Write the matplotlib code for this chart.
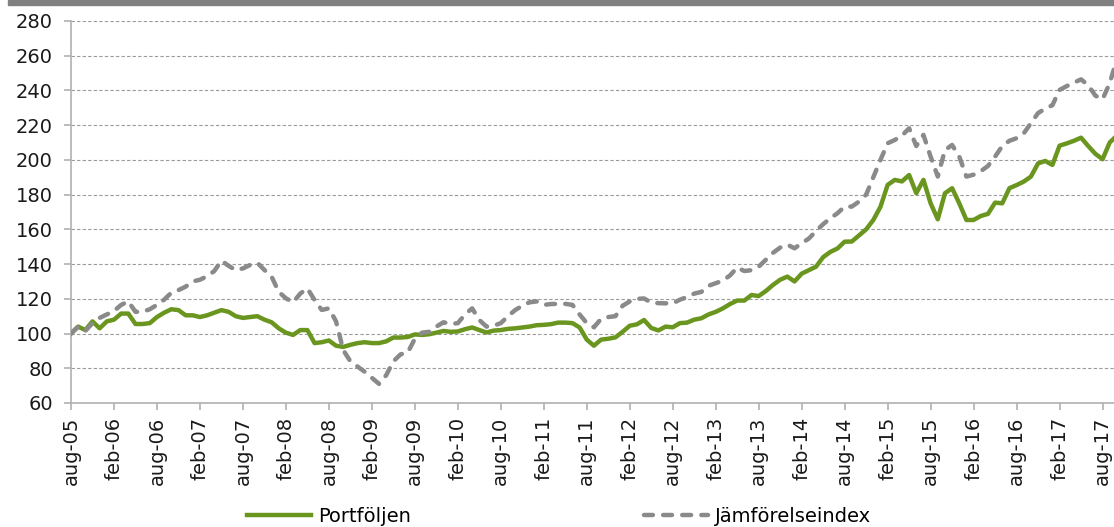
import matplotlib
matplotlib.use("Agg")
import matplotlib.pyplot as plt
from matplotlib.patches import Rectangle


# monthly index values, aug-05 .. oct-17
portfoljen = [
    100, 104, 102, 107, 103, 107, 108, 111.5, 111.5, 105.5,
    105.5, 106, 109.5, 112, 114, 113.5, 110.5, 110.5, 109.5, 110.5,
    112, 113.5, 112.5, 110, 109, 109.5, 110, 108, 106.5, 103,
    100.5, 99.2, 102, 102, 94.5, 95, 96, 93, 92.3, 93.5,
    94.5, 95, 94.5, 94.5, 95.5, 97.7, 97.7, 98, 99.5, 99.2,
    99.6, 100.5, 101.5, 101, 101.2, 102.5, 103.5, 102, 100.6, 101.7,
    102, 102.7, 103, 103.5, 104, 104.8, 105, 105.4, 106.3, 106.3,
    106, 103.5, 96.5, 93, 96.5, 97, 97.8, 101, 104.5, 105.3,
    107.8, 103.2, 101.8, 104, 103.6, 106, 106.3, 108, 108.8, 111,
    112.5, 114.5, 117, 119, 119, 122.2, 121.6, 124.5, 128, 131,
    132.8, 130, 134.5, 136.5, 138.5, 144, 147, 149, 152.9, 153,
    156.5, 160, 165.4, 173, 185.6, 188.5, 187.6, 191.3, 180.8, 188.5,
    175, 165.8, 180.8, 183.7, 175, 165.4, 165.4, 167.7, 168.9, 175.4,
    175, 183.7, 185.5, 187.5, 190.4, 198, 199.4, 197.1, 208.2, 209.5,
    211, 212.8, 208, 203.5, 200.4, 210, 214,
]

jamforelseindex = [
    100, 104, 101.5, 106, 109, 111, 113, 116.5, 118.5, 112.5,
    112.5, 114, 116.5, 119.5, 123.5, 125, 127, 130, 131, 133,
    136, 142, 139, 136.5, 137.5, 139.5, 140.8, 136.6, 132.8, 124,
    120.3, 118, 123, 126, 119.3, 113.6, 114.5, 107, 90.5, 84,
    81, 78, 74.5, 71, 76, 84, 88, 89, 97, 100.5,
    101, 104, 106.5, 105.5, 106, 111, 114.5, 107.8, 104, 104.5,
    106, 110, 113.5, 116, 118, 118.5, 116.5, 117, 117.1, 117.1,
    116.5, 111, 106, 103.6, 108.5, 109.5, 110, 116, 118.5, 120,
    120.2, 117.8, 117.5, 117.4, 117.4, 119.5, 121, 123, 124, 127.5,
    129, 130.5, 133.5, 138, 136, 136.5, 138.5, 142.5, 146.5, 149.5,
    151.2, 149.1, 152, 154.7, 159, 163, 166.4, 169.3, 173.1, 173.1,
    176, 180, 190, 200, 209.6, 211.5, 214, 218.2, 208, 214.4,
    201.9, 190.4, 205.7, 208.6, 201.9, 190.4, 191.5, 193.5, 196.5, 201.9,
    208, 211, 212.5, 215.3, 221.1, 227, 229.5, 231.5, 240.3, 242.5,
    244.5, 246.4, 243, 237, 234.9, 244.2, 258,
]

tick_labels = [
    "aug-05", "feb-06", "aug-06", "feb-07", "aug-07", "feb-08", "aug-08",
    "feb-09", "aug-09", "feb-10", "aug-10", "feb-11", "aug-11", "feb-12",
    "aug-12", "feb-13", "aug-13", "feb-14", "aug-14", "feb-15", "aug-15",
    "feb-16", "aug-16", "feb-17", "aug-17",
]

GREEN = "#6a961f"
GREY = "#8a8a8a"


def main():
    plt.rcParams["font.family"] = ["DejaVu Sans"]

    fig = plt.figure(figsize=(11.14, 5.27), dpi=100)
    ax = fig.add_axes([71 / 1114, 124 / 527, 1043 / 1114, 382 / 527])

    months = list(range(len(portfoljen)))
    ax.plot(months, portfoljen, color=GREEN, lw=3.2, label="Portföljen",
            solid_joinstyle="round", zorder=3)
    ax.plot(months, jamforelseindex, color=GREY, lw=3.2, label="Jämförelseindex",
            dashes=(2.0, 2.3), dash_capstyle="round", zorder=3)

    ax.set_xlim(0, 145.6)
    ax.set_ylim(60, 280)
    ax.set_yticks(range(60, 281, 20))
    ax.set_xticks(range(0, 6 * len(tick_labels), 6))
    ax.set_xticklabels(tick_labels, rotation=90)

    ax.grid(axis="y", color="#9a9a9a", lw=0.8, linestyle=(0, (3, 2)))
    ax.set_axisbelow(True)
    for side in ("top", "right"):
        ax.spines[side].set_visible(False)
    for side in ("left", "bottom"):
        ax.spines[side].set_color("#b0b0b0")
        ax.spines[side].set_linewidth(1.2)
    ax.tick_params(axis="both", colors="#b0b0b0", labelcolor="#1a1a1a",
                   labelsize=14, length=5, width=1.2)
    ax.tick_params(axis="y", pad=8)
    ax.tick_params(axis="x", pad=5)

    # title band, mostly cut off at the top
    fig.patches.append(Rectangle((8 / 1114, 522 / 527), 1, 5 / 527,
                                 transform=fig.transFigure, color="#808080"))

    fig.legend(loc="center", bbox_to_anchor=(0.502, 0.02), ncol=2, frameon=False,
               fontsize=14, handlelength=3.3, handletextpad=0.35,
               columnspacing=12, borderpad=0)

    fig.savefig("out.png", dpi=100)


if __name__ == "__main__":
    main()
